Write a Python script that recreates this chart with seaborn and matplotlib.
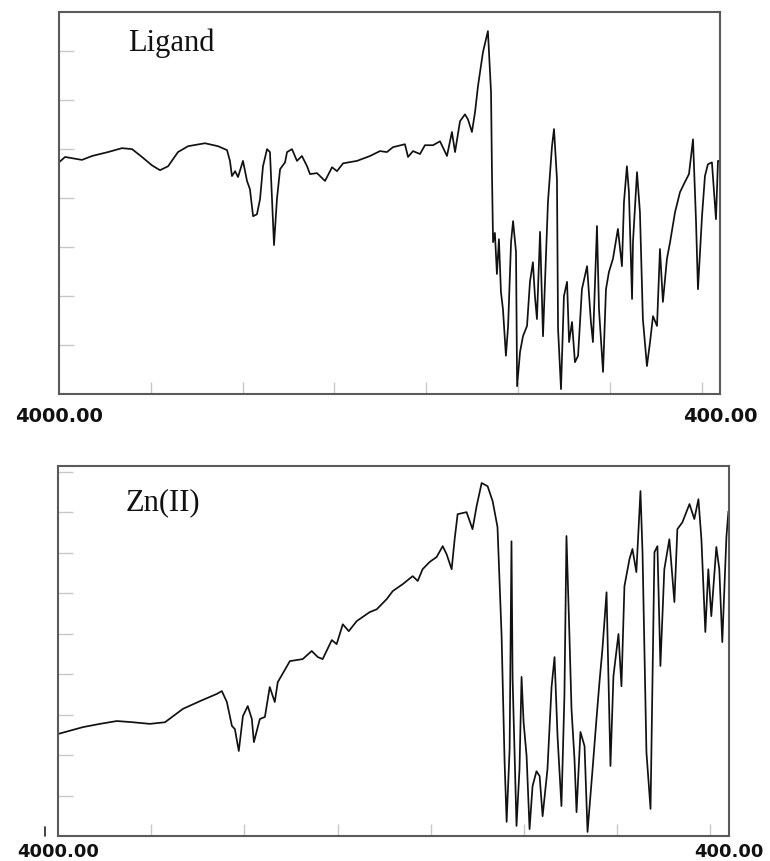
import numpy as np
import pandas as pd
import matplotlib
matplotlib.use("Agg")
import matplotlib.pyplot as plt
import seaborn as sns
from matplotlib.lines import Line2D

# ---------------- data (wavenumber cm-1, transmittance a.u.) ----------------
ligand_wn = [4000, 3967, 3875, 3820, 3733, 3657, 3602, 3548, 3494, 3450, 3406, 3352,
             3297, 3205, 3134, 3085, 3069, 3058, 3041, 3025, 2998, 2976, 2960, 2943,
             2922, 2905, 2889, 2867, 2851, 2840, 2829, 2813, 2796, 2769, 2758, 2731,
             2704, 2677, 2649, 2633, 2595, 2551, 2513, 2486, 2453, 2377, 2306, 2252,
             2214, 2181, 2116, 2099, 2072, 2034, 2007, 1963, 1925, 1887, 1860, 1843,
             1816, 1789, 1773, 1751, 1734, 1718, 1691, 1664, 1647, 1642, 1636, 1626,
             1615, 1604, 1593, 1582, 1566, 1554, 1538, 1527, 1511, 1505, 1489, 1473,
             1451, 1435, 1419, 1408, 1397, 1380, 1364, 1337, 1315, 1304, 1288, 1282,
             1266, 1250, 1233, 1222, 1206, 1190, 1173, 1152, 1124, 1103, 1092, 1070,
             1059, 1037, 1021, 1005, 983, 956, 934, 923, 907, 896, 879, 874, 852, 836,
             820, 798, 781, 765, 743, 727, 711, 689, 672, 645, 618, 591, 569, 547, 531,
             520, 498, 482, 466, 444, 422, 411, 406]
ligand_t = [47.3, 48.4, 47.8, 48.6, 49.4, 50.2, 50.0, 48.4, 46.7, 45.7, 46.5, 49.4,
            50.6, 51.2, 50.6, 49.8, 47.6, 44.5, 45.5, 44.3, 47.6, 43.5, 41.8, 36.3,
            36.7, 39.8, 46.5, 50.0, 49.4, 39.8, 30.4, 39.8, 45.9, 47.3, 49.4, 50.0,
            47.6, 48.6, 46.5, 44.9, 45.1, 43.5, 46.3, 45.5, 47.1, 47.6, 48.6, 49.6,
            49.4, 50.4, 51.0, 48.4, 49.6, 49.0, 50.8, 50.8, 51.6, 48.6, 53.5, 49.4,
            55.7, 57.1, 56.1, 53.5, 57.6, 62.9, 69.8, 74.1, 61.6, 45.3, 31.0, 32.9,
            24.5, 31.6, 20.8, 17.3, 7.8, 13.9, 31.0, 35.3, 29.0, 1.6, 8.6, 11.8,
            13.9, 22.9, 26.9, 20.0, 15.3, 33.1, 11.8, 39.2, 50.6, 54.1, 43.9, 13.3,
            1.0, 20.0, 22.9, 10.6, 14.7, 6.5, 7.8, 21.4, 26.1, 14.7, 10.6, 34.3,
            17.3, 4.5, 21.4, 24.9, 27.6, 33.7, 26.1, 39.2, 46.5, 41.2, 19.4, 31.0, 45.3, 37.1,
            15.3, 5.7, 10.6, 15.9, 13.9, 29.6, 18.8, 27.6, 31.0, 37.1, 41.2, 43.3, 44.9, 52.0, 35.7,
            21.4, 36.3, 44.5, 46.9, 47.3, 35.7, 47.6, 47.6]

zn_wn = [4000, 3866, 3775, 3684, 3598, 3507, 3426, 3330, 3239, 3148, 3121, 3094,
         3067, 3051, 3030, 3008, 2982, 2960, 2949, 2917, 2890, 2864, 2837, 2821,
         2756, 2687, 2639, 2606, 2580, 2531, 2505, 2472, 2440, 2397, 2328, 2290,
         2237, 2204, 2151, 2097, 2070, 2044, 2006, 1969, 1936, 1915, 1888, 1872,
         1856, 1808, 1776, 1754, 1727, 1695, 1668, 1642, 1620, 1615, 1604, 1593,
         1577, 1567, 1561, 1540, 1524, 1513, 1502, 1486, 1470, 1454, 1433, 1416,
         1400, 1374, 1352, 1336, 1320, 1299, 1283, 1272, 1256, 1245, 1229, 1218,
         1197, 1175, 1159, 1132, 1111, 1095, 1079, 1057, 1036, 1020, 993, 977, 961,
         934, 918, 897, 875, 864, 843, 821, 800, 784, 768, 747, 720, 693, 677, 650,
         612, 586, 564, 548, 527, 511, 495, 468, 452, 436, 414, 403]
zn_t = [25.2, 26.9, 27.7, 28.4, 28.1, 27.7, 28.1, 31.4, 33.3, 35.1, 35.8, 33.1,
        27.2, 26.4, 21.0, 29.6, 32.1, 28.9, 23.2, 28.9, 29.4, 36.8, 33.1, 38.0,
        43.2, 43.7, 45.7, 44.2, 43.7, 48.4, 47.4, 52.3, 50.6, 53.1, 55.3, 56.0,
        58.5, 60.5, 62.2, 64.2, 63.0, 65.9, 67.7, 68.9, 71.6, 69.6, 65.9, 73.3,
        79.5, 80.0, 75.8, 81.5, 87.2, 86.4, 82.7, 76.3, 49.4, 39.5, 18.3, 3.5,
        21.5, 72.8, 38.8, 2.5, 16.5, 39.3, 28.1, 19.8, 1.7, 12.3, 16.0, 14.8,
        4.9, 16.5, 36.8, 44.2, 24.7, 7.4, 34.6, 74.1, 49.4, 31.4, 19.0, 5.9,
        25.7, 22.2, 1.0, 16.5, 28.9, 38.0, 46.2, 60.2, 17.3, 39.5, 49.9, 37.0, 61.7,
        68.4, 70.9, 65.2, 85.2, 70.1, 20.7, 6.7, 70.1, 71.6, 42.0, 65.9, 73.3, 57.8, 75.8, 77.5,
        82.0, 78.3, 83.2, 73.3, 50.4, 65.9, 54.3, 71.4, 65.9, 47.9, 73.8, 80.2]

panel_names = ["Ligand", "Zn(II)"]
x_tick_labels = ["4000.00", "400.00"]
x_major = [4000, 400]
x_minor = [3500, 3000, 2500, 2000, 1500, 1000, 500]
ligand_yticks = [10, 20, 30, 40, 50, 60, 70]
zn_yticks = [10, 20, 30, 40, 50, 60, 70, 80, 90]

# ---------------- figure ----------------
sns.set_theme(style="white")
plt.rcParams['font.family'] = ['DejaVu Sans']

W, H = 770, 862
fig = plt.figure(figsize=(W / 100, H / 100), dpi=100)

def box(l, t, r, b):
    return [l / W, 1 - b / H, (r - l) / W, (b - t) / H]

ax1 = fig.add_axes(box(59, 13, 720, 395))
ax2 = fig.add_axes(box(58, 467, 729, 837))

specs = [
    (ax1, ligand_wn, ligand_t, (0, 78), ligand_yticks, panel_names[0], (0.104, 0.90), 9, 14),
    (ax2, zn_wn, zn_t, (0, 91.4), zn_yticks, panel_names[1], (0.101, 0.884), 4, 13),
]

for ax, wn, t, ylim, yt, name, pos, pad, fs in specs:
    df = pd.DataFrame({"wavenumber": wn, "T": t})
    sns.lineplot(data=df, x="wavenumber", y="T", ax=ax, sort=False,
                 color="#111111", linewidth=1.25, estimator=None)
    ax.set_xlim(4000, 400)
    ax.set_ylim(*ylim)
    ax.set_xlabel("")
    ax.set_ylabel("")
    ax.set_xticks(x_major)
    ax.set_xticklabels(x_tick_labels, fontsize=fs, fontweight="bold",
                       color="#111111")
    ax.set_xticks(x_minor, minor=True)
    ax.tick_params(axis="x", which="major", length=0, pad=pad)
    ax.tick_params(axis="x", which="minor", direction="in", length=8.5,
                   width=1.0, color="#c8c8c8", bottom=True)
    ax.set_yticks(yt)
    ax.set_yticklabels([])
    ax.tick_params(axis="y", which="major", direction="in", length=11,
                   width=1.0, color="#c8c8c8", left=True)
    for sp in ax.spines.values():
        sp.set_color("#5a5a5a")
        sp.set_linewidth(1.5)
    ax.text(pos[0], pos[1], name, transform=ax.transAxes, ha="left",
            va="baseline", fontsize=22, family=["Liberation Serif"],
            color="#111111")

# small stray mark left of lower panel
fig.add_artist(Line2D([45 / W, 45 / W], [1 - 837 / H, 1 - 828 / H],
                      transform=fig.transFigure, color="#222222", linewidth=1.2))

fig.savefig("out.png", dpi=100, facecolor="white")
